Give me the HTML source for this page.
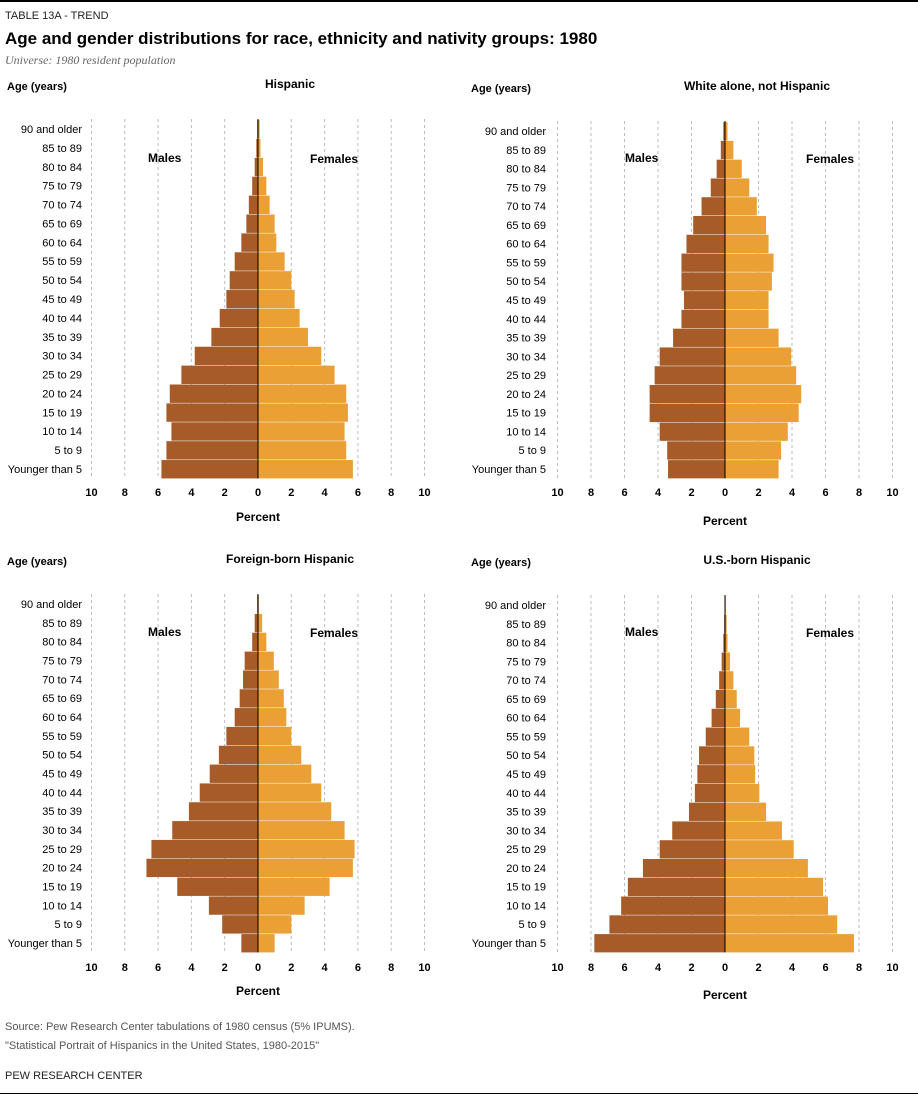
<!DOCTYPE html>
<html><head><meta charset="utf-8">
<style>
body{margin:0;background:#fff;font-family:"Liberation Sans",sans-serif;}
#root{position:relative;width:918px;height:1097px;overflow:hidden;}
.t{position:absolute;white-space:nowrap;color:#000;}
</style></head>
<body>
<div id="root">
<div style="position:absolute;left:0;top:0;width:918px;height:2px;background:#000"></div>
<div class="t" style="left:5px;top:10px;font-size:11px;color:#222">TABLE 13A - TREND</div>
<div class="t" style="left:5px;top:29px;font-size:17px;font-weight:bold">Age and gender distributions for race, ethnicity and nativity groups: 1980</div>
<div class="t" style="left:5px;top:53px;font-size:12px;font-style:italic;color:#666;font-family:'Liberation Serif',serif">Universe: 1980 resident population</div>
<svg id="chart" width="918" height="1097" style="position:absolute;left:0;top:0"></svg>
<div class="t" style="left:5px;top:1021px;font-size:11px;color:#555">Source: Pew Research Center tabulations of 1980 census (5% IPUMS).</div>
<div class="t" style="left:5px;top:1040px;font-size:11px;color:#555">"Statistical Portrait of Hispanics in the United States, 1980-2015"</div>
<div class="t" style="left:5px;top:1070px;font-size:11px;color:#222">PEW RESEARCH CENTER</div>
<div style="position:absolute;left:0;top:1093px;width:918px;height:1px;background:#000"></div>
</div>
<script>
const ageGroups=["90 and older","85 to 89","80 to 84","75 to 79","70 to 74","65 to 69","60 to 64","55 to 59","50 to 54","45 to 49","40 to 44","35 to 39","30 to 34","25 to 29","20 to 24","15 to 19","10 to 14","5 to 9","Younger than 5"];
const tickValues=[10,8,6,4,2,0,2,4,6,8,10];
const hispMales=[0.05,0.1,0.2,0.35,0.55,0.7,1.0,1.4,1.7,1.9,2.3,2.8,3.8,4.6,5.3,5.5,5.2,5.5,5.8];
const hispFemales=[0.1,0.15,0.3,0.5,0.7,1.0,1.1,1.6,2.0,2.2,2.5,3.0,3.8,4.6,5.3,5.4,5.2,5.3,5.7];
const whiteMales=[0.1,0.25,0.5,0.85,1.4,1.9,2.3,2.6,2.6,2.45,2.6,3.1,3.9,4.2,4.5,4.5,3.9,3.45,3.4];
const whiteFemales=[0.15,0.5,1.0,1.45,1.9,2.45,2.6,2.9,2.8,2.6,2.6,3.2,3.95,4.25,4.55,4.4,3.75,3.35,3.2];
const fbMales=[0.05,0.2,0.35,0.8,0.9,1.1,1.4,1.9,2.35,2.9,3.5,4.15,5.15,6.4,6.7,4.85,2.95,2.15,1.0];
const fbFemales=[0.05,0.25,0.5,0.95,1.25,1.55,1.7,2.0,2.6,3.2,3.8,4.4,5.2,5.8,5.7,4.3,2.8,2.0,1.0];
const usMales=[0.02,0.05,0.1,0.2,0.35,0.55,0.8,1.15,1.55,1.65,1.8,2.15,3.15,3.9,4.9,5.8,6.2,6.9,7.8];
const usFemales=[0.05,0.1,0.15,0.3,0.5,0.7,0.9,1.45,1.75,1.8,2.05,2.45,3.4,4.1,4.95,5.85,6.15,6.7,7.7];

const svg=document.getElementById('chart');
const NS='http://www.w3.org/2000/svg';
function mk(tag,attrs,txt){const e=document.createElementNS(NS,tag);for(const k in attrs)e.setAttribute(k,attrs[k]);if(txt!==undefined)e.textContent=txt;svg.appendChild(e);return e;}

function panel(title,cx,unit,yTop,yBot,labelX,males,females,key,titleY,malesX,femalesX,legY,tickY,pctY){
  const step=(yBot-yTop)/(ageGroups.length-1);
  const xs=v=>cx+v*unit;
  const yr=i=>yTop+i*step;
  let e;
  e=mk('text',{x:labelX-75,y:titleY,'font-size':11,'font-weight':'bold','font-family':'Liberation Sans'},'Age (years)');
  
  
  e=mk('text',{x:cx+32,y:titleY-2,'font-size':12,'font-weight':'bold','text-anchor':'middle','font-family':'Liberation Sans'},title);
  
  
  for(let g=-10;g<=10;g+=2){
    if(g===0)continue;
    e=mk('line',{x1:xs(g),x2:xs(g),y1:yTop-10,y2:yBot+10,stroke:'#bbb','stroke-width':1,'stroke-dasharray':'3,3'});
    
    
  }
  ageGroups.forEach((a,i)=>{
    const y=yr(i);
    e=mk('text',{x:labelX,y:y+4,'font-size':11,'text-anchor':'end','font-family':'Liberation Sans'},a);
    
    
    e=mk('rect',{x:xs(-males[i]),y:y-step/2+0.5,width:males[i]*unit,height:step-0.5,fill:'#a65b29'});
    
    
    e=mk('rect',{x:cx,y:y-step/2+0.5,width:females[i]*unit,height:step-0.5,fill:'#eaa034'});
    
    
  });
  e=mk('line',{x1:cx,x2:cx,y1:yTop-10,y2:yBot+step/2,stroke:'#000','stroke-width':1});
  
  
  e=mk('text',{x:malesX,y:legY,'font-size':12,'font-weight':'bold','font-family':'Liberation Sans'},'Males');
  
  
  e=mk('text',{x:femalesX,y:legY+1,'font-size':12,'font-weight':'bold','font-family':'Liberation Sans'},'Females');
  
  
  tickValues.forEach((t,j)=>{
    const v=(j-5)*2;
    e=mk('text',{x:xs(v),y:tickY,'font-size':11,'font-weight':'bold','text-anchor':'middle','font-family':'Liberation Sans'},t);
    
    
  });
  e=mk('text',{x:cx,y:pctY,'font-size':12,'font-weight':'bold','text-anchor':'middle','font-family':'Liberation Sans'},'Percent');
  
  
}
panel('Hispanic',258,16.65,129,469,82,hispMales,hispFemales,'hispanic',90,148,310,162,496,521);
panel('White alone, not Hispanic',725,16.75,131,469,546,whiteMales,whiteFemales,'white',92,625,806,162,496,525);
panel('Foreign-born Hispanic',258,16.65,604,943,82,fbMales,fbFemales,'foreign-born',565,148,310,636,971,995);
panel('U.S.-born Hispanic',725,16.75,605,943,546,usMales,usFemales,'us-born',566,625,806,636,971,999);
</script>
</body></html>
